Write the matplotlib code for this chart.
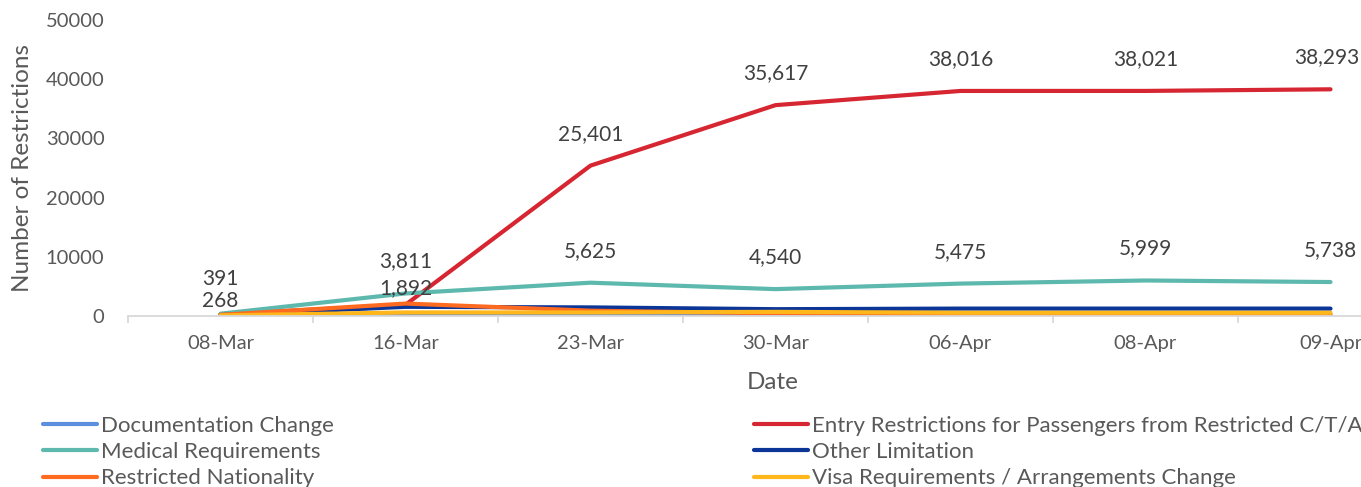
import matplotlib
matplotlib.use("Agg")
import matplotlib.pyplot as plt
import numpy as np

plt.rcParams['font.family'] = ['Lato', 'DejaVu Sans']

dates = ["08-Mar", "16-Mar", "23-Mar", "30-Mar", "06-Apr", "08-Apr", "09-Apr"]
documentation_change = [50, 150, 150, 100, 60, 60, 60]
entry_restrictions = [268, 1892, 25401, 35617, 38016, 38021, 38293]
medical_requirements = [391, 3811, 5625, 4540, 5475, 5999, 5738]
other_limitation = [150, 1550, 1450, 1150, 1250, 1250, 1250]
restricted_nationality = [200, 2100, 900, 450, 300, 300, 300]
visa_requirements = [100, 600, 600, 700, 550, 550, 550]

series = [
    ("Documentation Change", documentation_change, "#5B8EDC"),
    ("Entry Restrictions for Passengers from Restricted C/T/A", entry_restrictions, "#D62631"),
    ("Medical Requirements", medical_requirements, "#5DB8AE"),
    ("Other Limitation", other_limitation, "#0B3596"),
    ("Restricted Nationality", restricted_nationality, "#FF6A21"),
    ("Visa Requirements / Arrangements Change", visa_requirements, "#FFB71B"),
]

# label offsets (points) relative to the marker
red_offsets = [10, 12, 23, 23, 23, 23, 23]
red_xoffsets = [0, 0, 0, 0, 0, 0, -3]
teal_offsets = [25, 23, 23, 23, 23, 23, 23]

txt = "#595959"
lab = "#404040"
fs = 14.5
fs_data = 15
fs_title = 17.5
fs_leg = 16

fig = plt.figure(figsize=(13.61, 4.87), dpi=100)
ax = fig.add_axes([128/1361, 171/487, (1423-128)/1361, 296/487])

x = np.arange(len(dates))
handles = {}
for name, vals, col in series:
    ln, = ax.plot(x, vals, color=col, lw=3.0, solid_capstyle='round', solid_joinstyle='round')
    handles[name] = ln

for xi, v, off, xo in zip(x, entry_restrictions, red_offsets, red_xoffsets):
    ax.annotate(f"{v:,}", (xi, v), xytext=(xo, off), textcoords='offset points',
                ha='center', va='center', fontsize=fs_data, color=lab)
for xi, v, off in zip(x, medical_requirements, teal_offsets):
    ax.annotate(f"{v:,}", (xi, v), xytext=(0, off), textcoords='offset points',
                ha='center', va='center', fontsize=fs_data, color=lab)

ax.set_xlim(-0.5, len(dates) - 0.5)
ax.set_ylim(0, 50000)
ax.set_yticks(np.arange(0, 50001, 10000))
ax.set_yticklabels([str(v) for v in range(0, 50001, 10000)])
ax.set_xticks(x)
ax.set_xticklabels(dates)
ax.set_xticks(np.arange(-0.5, len(dates), 1.0), minor=True)
ax.tick_params(axis='x', which='major', length=0, pad=14, labelsize=fs, labelcolor=txt)
ax.tick_params(axis='x', which='minor', length=5, width=1.3, color="#D9D9D9")
ax.tick_params(axis='y', length=0, pad=17, labelsize=fs, labelcolor=txt)

for s in ['top', 'right', 'left']:
    ax.spines[s].set_visible(False)
ax.spines['bottom'].set_color("#D9D9D9")
ax.spines['bottom'].set_linewidth(1.3)

ax.set_xlabel("Date", fontsize=fs_title, color=txt)
ax.set_ylabel("Number of Restrictions", fontsize=fs_title, color=txt)
ax.xaxis.set_label_coords(645/1295, -0.19)
ax.yaxis.set_label_coords(-(128-22)/1295, 0.5)
ax.yaxis.label.set_va('center')

left_names = ["Documentation Change", "Medical Requirements", "Restricted Nationality"]
right_names = ["Entry Restrictions for Passengers from Restricted C/T/A", "Other Limitation",
               "Visa Requirements / Arrangements Change"]
common = dict(loc='upper left', frameon=False, fontsize=fs_leg, handlelength=2.45,
              handletextpad=0.15, labelspacing=0.28, borderpad=0, borderaxespad=0,
              labelcolor=txt)
fig.legend([handles[n] for n in left_names], left_names,
           bbox_to_anchor=(43/1361, 1 - 416/487), **common)
fig.legend([handles[n] for n in right_names], right_names,
           bbox_to_anchor=(754/1361, 1 - 416/487), **common)

fig.savefig("out.png", dpi=100)
